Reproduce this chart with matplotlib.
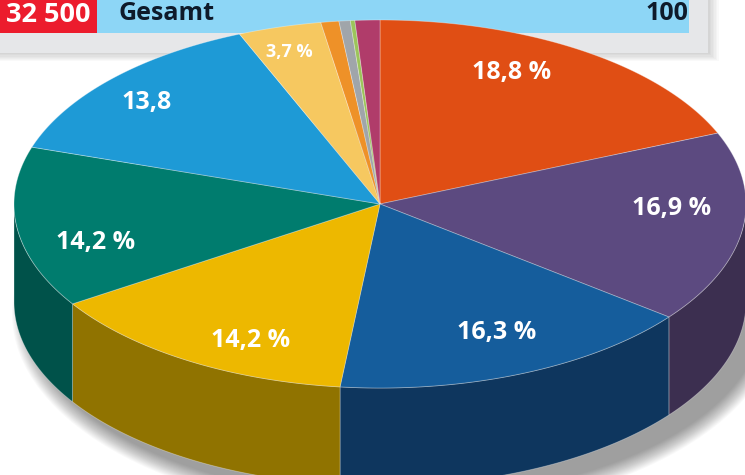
import numpy as np
import matplotlib.pyplot as plt
from matplotlib.patches import Polygon, Rectangle, Ellipse

# Daten (Anteile in %), im Uhrzeigersinn ab 12 Uhr
werte = [18.8, 16.9, 16.3, 14.2, 14.2, 13.8, 3.7, 0.8, 0.5, 0.2, 1.1]
labels = ["18,8 %", "16,9 %", "16,3 %", "14,2 %", "14,2 %", "13,8", "3,7 %", "", "", "", ""]
farben = ["#E04E14", "#5C4A80", "#155D9C", "#EDB800", "#007C6E", "#1E9AD6",
          "#F6C860", "#EE9128", "#A0A5AA", "#9CC45A", "#B03C6A"]
seiten = ["#8A2F0C", "#3C2F50", "#0E365E", "#907300", "#00524A", "#126089",
          "#A07E30", "#9A5A15", "#65696D", "#5E7D35", "#6E2442"]

kopf_zahl = "32 500"
kopf_text = "Gesamt"
kopf_wert = "100"

plt.rcParams['font.family'] = ['Open Sans', 'DejaVu Sans']

fig = plt.figure(figsize=(7.45, 4.75), dpi=100)
ax = fig.add_axes([0, 0, 1, 1])
ax.set_xlim(0, 745)
ax.set_ylim(475, 0)
ax.axis('off')

# Kopfzeile der Tabelle
for i in range(8):
    ax.add_patch(Rectangle((0, 0), 708 + i * 1.5, 53 + i * 1.2, color='#000000', alpha=0.025, lw=0, zorder=1))
ax.add_patch(Rectangle((0, 0), 708, 53, color='#E6E7E9', lw=0, zorder=2))
ax.add_patch(Rectangle((97, 0), 592, 33, color='#8DD6F6', lw=0, zorder=3))
ax.add_patch(Rectangle((0, 0), 97, 33, color='#EC1C2D', lw=0, zorder=3))
ax.text(90, 15, kopf_zahl, ha='right', va='center', color='white', fontsize=19.5, fontweight='bold', zorder=4)
ax.text(119, 14, kopf_text, ha='left', va='center', color='#0E1A2A', fontsize=18, fontweight='bold', zorder=4)
ax.text(688, 14, kopf_wert, ha='right', va='center', color='#0E1A2A', fontsize=18, fontweight='bold', zorder=4)

# Geometrie der Torte
cx, cy = 380, 204
rx, ry = 366, 184
tiefe = 98


def punkt(theta, dy=0):
    t = np.radians(theta)
    return cx + rx * np.cos(t), cy - ry * np.sin(t) + dy


def bogen(a, b, dy=0, n=120):
    th = np.linspace(a, b, n)
    x, y = punkt(th, dy)
    return np.column_stack([x, y])


# Schatten
for i in range(18):
    ax.add_patch(Ellipse((cx + 16, cy + tiefe + 12), 2 * (rx + 18 - i), 2 * (ry + 18 - i),
                         color='#000000', alpha=0.024, lw=0, zorder=5))

gesamt = sum(werte)
start = 90.0
winkel = []
for w in werte:
    ende = start - 360.0 * w / gesamt
    winkel.append((ende, start))
    start = ende

# Seitenflaechen (vordere Haelfte)
for (a, b), fs in zip(winkel, seiten):
    lo, hi = max(a, -180), min(b, 0)
    if lo >= hi:
        continue
    oben = bogen(lo, hi)
    unten = bogen(hi, lo, dy=tiefe)
    ax.add_patch(Polygon(np.vstack([oben, unten]), closed=True, facecolor=fs,
                         edgecolor=(1, 1, 1, 0.35), lw=0.6, zorder=6))

# Deckflaechen
for (a, b), f in zip(winkel, farben):
    pts = np.vstack([[cx, cy], bogen(b, a)])
    ax.add_patch(Polygon(pts, closed=True, facecolor=f, edgecolor=(1, 1, 1, 0.35), lw=0.6, zorder=7))

# Beschriftungen
lab_pos = [(512, 72), (672, 208), (497, 333), (251, 341), (96, 242), (147, 103), (289, 52)]
for (x, y), t, w in zip(lab_pos, labels, werte):
    gr = 13 if w < 5 else 18
    ax.text(x, y, t, ha='center', va='center', color='white', fontsize=gr, fontweight='bold', zorder=8)

fig.savefig('out.png', dpi=100)
